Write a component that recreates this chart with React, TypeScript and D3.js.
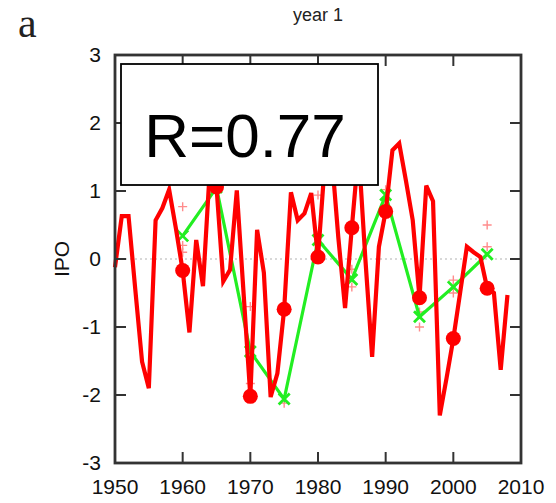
import { useEffect, useRef } from 'react';
import * as d3 from 'd3';

// observed annual IPO index (red line), 1950-2008
const YEARS = d3.range(1950, 2009);
const OBS = [
  -0.12, 0.63, 0.63, -0.45, -1.51, -1.9, 0.57, 0.75, 1.02, 0.45,
  -0.17, -1.08, 0.28, -0.4, 1.3, 1.06, -0.33, -0.16, 1.01, -0.5,
  -2.02, 0.43, -0.2, -2.03, -1.68, -0.74, 0.98, 0.57, 0.67, 0.97,
  0.03, 1.4, 1.55, 0.32, -0.72, 0.46, 1.6, 0.0, -1.44, 0.18,
  0.7, 1.6, 1.7, 1.15, 0.57, -0.57, 1.08, 0.85, -2.3, -1.75,
  -1.17, -0.5, 0.18, 0.1, 0.03, -0.43, -0.5, -1.63, -0.53,
];

// forecast start years and ensemble mean (green line)
const START_YEARS = [1960, 1965, 1970, 1975, 1980, 1985, 1990, 1995, 2000, 2005];
const FORECAST = [0.34, 1.05, -1.36, -2.06, 0.28, -0.3, 0.94, -0.85, -0.41, 0.07];

// individual members (pink crosses)
const MEMBER_YEARS = [1960, 1960, 1960, 1965, 1970, 1970, 1975, 1980, 1980, 1985, 1985, 1990, 1990, 1995, 1995, 2000, 2000, 2005, 2005];
const MEMBERS = [0.77, 0.2, 0.1, 1.15, -0.7, -1.83, -2.12, 0.94, 0.35, -0.41, -0.15, 1.02, 0.88, -1.0, -0.78, -0.31, -0.5, 0.5, 0.18];

const X_TICKS = [1950, 1960, 1970, 1980, 1990, 2000, 2010];
const Y_TICKS = [-3, -2, -1, 0, 1, 2, 3];

const W = 556, H = 503;
const M = { left: 115, right: 521, top: 55, bottom: 463 };
const FONT = '"Liberation Sans", Arial, sans-serif';

export default function App() {
  const ref = useRef<SVGSVGElement>(null);

  useEffect(() => {
    const svg = d3.select(ref.current);
    svg.selectAll('*').remove();

    const x = d3.scaleLinear().domain([1950, 2010]).range([M.left, M.right]);
    const y = d3.scaleLinear().domain([-3, 3]).range([M.bottom, M.top]);

    svg.append('rect').attr('width', W).attr('height', H).attr('fill', '#fff');

    // zero line
    svg.append('line')
      .attr('x1', M.left).attr('x2', M.right).attr('y1', y(0)).attr('y2', y(0))
      .attr('stroke', '#ccc').attr('stroke-width', 1.5).attr('stroke-dasharray', '2,3');

    // members
    const plus = svg.append('g').attr('stroke', '#ff8c8c').attr('stroke-width', 1.4);
    MEMBERS.forEach((v, i) => {
      const cx = x(MEMBER_YEARS[i]), cy = y(v);
      plus.append('path').attr('d', `M${cx - 4.5},${cy}H${cx + 4.5}M${cx},${cy - 4.5}V${cy + 4.5}`);
    });

    // forecast line
    const fc = START_YEARS.map((yr, i) => [yr, FORECAST[i]] as [number, number]);
    svg.append('path').datum(fc)
      .attr('d', d3.line<[number, number]>().x(d => x(d[0])).y(d => y(d[1])))
      .attr('fill', 'none').attr('stroke', '#22ee22').attr('stroke-width', 3.2);
    const gx = svg.append('g').attr('stroke', '#22ee22').attr('stroke-width', 2.8);
    fc.forEach(d => {
      const cx = x(d[0]), cy = y(d[1]);
      gx.append('path').attr('d', `M${cx - 5.5},${cy - 5.5}L${cx + 5.5},${cy + 5.5}M${cx - 5.5},${cy + 5.5}L${cx + 5.5},${cy - 5.5}`);
    });

    // observed line
    const obs = YEARS.map((yr, i) => [yr, OBS[i]] as [number, number]);
    svg.append('path').datum(obs)
      .attr('d', d3.line<[number, number]>().x(d => x(d[0])).y(d => y(d[1])))
      .attr('fill', 'none').attr('stroke', '#ff0000').attr('stroke-width', 4.2)
      .attr('stroke-linejoin', 'miter');

    svg.append('g').selectAll('circle')
      .data(obs.filter(d => START_YEARS.includes(d[0])))
      .join('circle')
      .attr('cx', d => x(d[0])).attr('cy', d => y(d[1])).attr('r', 7.5)
      .attr('fill', '#ff0000');

    // frame and inward ticks
    const tl = 11;
    const axes = svg.append('g').attr('stroke', '#333').attr('stroke-width', 2).attr('fill', 'none');
    axes.append('rect')
      .attr('x', M.left).attr('y', M.top)
      .attr('width', M.right - M.left).attr('height', M.bottom - M.top)
      .attr('stroke-width', 2.8);
    X_TICKS.slice(1, -1).forEach(t => {
      axes.append('line').attr('x1', x(t)).attr('x2', x(t)).attr('y1', M.bottom).attr('y2', M.bottom - tl);
      axes.append('line').attr('x1', x(t)).attr('x2', x(t)).attr('y1', M.top).attr('y2', M.top + tl);
    });
    Y_TICKS.slice(1, -1).forEach(t => {
      axes.append('line').attr('x1', M.left).attr('x2', M.left + tl).attr('y1', y(t)).attr('y2', y(t));
      axes.append('line').attr('x1', M.right).attr('x2', M.right - tl).attr('y1', y(t)).attr('y2', y(t));
    });

    // tick labels
    svg.append('g').selectAll('text').data(X_TICKS).join('text')
      .attr('x', d => x(d)).attr('y', M.bottom + 31)
      .attr('text-anchor', 'middle').attr('font-family', FONT).attr('font-size', 21)
      .attr('fill', '#111').text(d => d);
    svg.append('g').selectAll('text').data(Y_TICKS).join('text')
      .attr('x', M.left - 14).attr('y', d => y(d) + 7)
      .attr('text-anchor', 'end').attr('font-family', FONT).attr('font-size', 21)
      .attr('fill', '#111').text(d => d);

    svg.append('text')
      .attr('transform', `translate(69,${y(0)}) rotate(-90)`)
      .attr('text-anchor', 'middle').attr('font-family', FONT).attr('font-size', 21)
      .attr('fill', '#111').text('IPO');

    svg.append('text')
      .attr('x', (M.left + M.right) / 2).attr('y', 21)
      .attr('text-anchor', 'middle').attr('font-family', FONT).attr('font-size', 18)
      .attr('fill', '#222').text('year 1');

    svg.append('text')
      .attr('x', 18).attr('y', 37)
      .attr('font-family', '"Liberation Serif", "DejaVu Serif", serif').attr('font-size', 42)
      .attr('fill', '#222').text('a');

    // correlation box
    svg.append('rect')
      .attr('x', 121).attr('y', 64).attr('width', 257).attr('height', 121)
      .attr('fill', '#fff').attr('stroke', '#000').attr('stroke-width', 1.8);
    svg.append('text')
      .attr('x', 245).attr('y', 157)
      .attr('text-anchor', 'middle').attr('font-family', FONT).attr('font-size', 62)
      .attr('fill', '#000').text('R=0.77');
  }, []);

  return (
    <svg ref={ref} width={W} height={H}
      style={{ position: 'absolute', left: 0, top: 0, display: 'block' }} />
  );
}
